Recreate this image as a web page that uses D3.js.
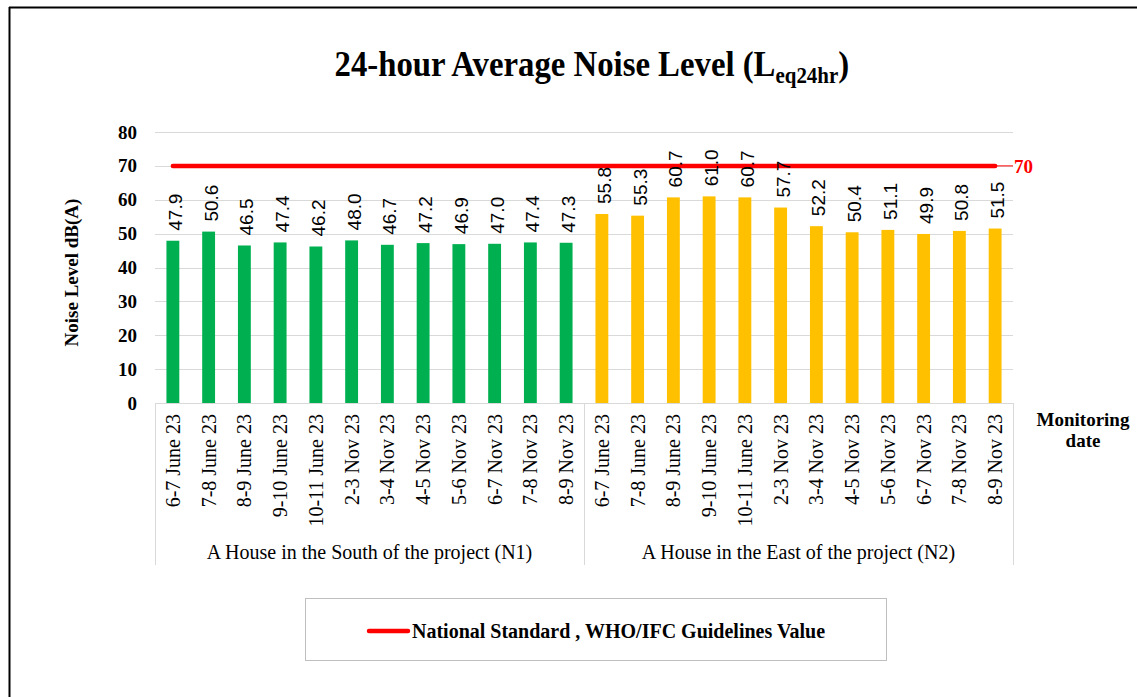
<!DOCTYPE html>
<html>
<head>
<meta charset="utf-8">
<script src="https://cdn.jsdelivr.net/npm/d3@7"></script>
<style>
  body { margin: 0; background: #fff; }
  svg { display: block; }
</style>
</head>
<body>
<div id="chart"></div>
<script>
// data
const dates = ['6-7 June 23', '7-8 June 23', '8-9 June 23', '9-10 June 23', '10-11 June 23',
    '2-3 Nov 23', '3-4 Nov 23', '4-5 Nov 23', '5-6 Nov 23', '6-7 Nov 23', '7-8 Nov 23', '8-9 Nov 23'];
const groups = ['A House in the South of the project (N1)', 'A House in the East of the project (N2)'];
const n1Values = [47.9, 50.6, 46.5, 47.4, 46.2, 48.0, 46.7, 47.2, 46.9, 47.0, 47.4, 47.3];
const n2Values = [55.8, 55.3, 60.7, 61.0, 60.7, 57.7, 52.2, 50.4, 51.1, 49.9, 50.8, 51.5];
const standardValue = 70;
const yTicks = [0, 10, 20, 30, 40, 50, 60, 70, 80];
const groupColors = ['#00B050', '#FFC000'];

const SERIF = '"Liberation Serif", "Times New Roman", serif';
const SANS = '"Liberation Sans", Arial, sans-serif';

const W = 1137, H = 697;
const plot = {left: 155, right: 1013, top: 132, bottom: 403};

const rows = [];
[n1Values, n2Values].forEach((vals, g) => {
    vals.forEach((v, i) => rows.push({key: g + '-' + i, date: dates[i], group: g, value: v}));
});

const svg = d3.select('#chart').append('svg')
    .attr('width', W)
    .attr('height', H)
    .style('font-family', SERIF);

// outer frame (top + left edges visible)
svg.append('line').attr('x1', 9).attr('x2', W).attr('y1', 7.5).attr('y2', 7.5)
    .attr('stroke', '#000').attr('stroke-width', 2);
svg.append('line').attr('x1', 9.5).attr('x2', 9.5).attr('y1', 7).attr('y2', H)
    .attr('stroke', '#000').attr('stroke-width', 2);

// title
const title = svg.append('text')
    .attr('x', 0).attr('y', 76)
    .style('font-family', SERIF)
    .style('font-weight', 'bold')
    .style('font-size', '36px')
    .attr('fill', '#000');
title.append('tspan').text('24-hour Average Noise Level (L');
title.append('tspan').attr('dy', 7).style('font-size', '23px').text('eq24hr');
title.append('tspan').attr('dy', -7).text(')');
const tb = title.node().getBBox();
const tScale = 515 / tb.width;
title.attr('transform', `translate(${592 - 515 / 2},0) scale(${tScale},1)`);

// scales
const x = d3.scaleBand()
    .domain(rows.map(d => d.key))
    .range([plot.left, plot.right])
    .paddingInner(0.64)
    .paddingOuter(0.32);
const y = d3.scaleLinear().domain([0, 80]).range([plot.bottom, plot.top]);
const cx = d => x(d.key) + x.bandwidth() / 2;

// grid
svg.append('g')
    .selectAll('line')
    .data(yTicks)
    .enter().append('line')
    .attr('x1', plot.left).attr('x2', plot.right)
    .attr('y1', d => Math.round(y(d)) + 0.5).attr('y2', d => Math.round(y(d)) + 0.5)
    .attr('stroke', '#D9D9D9').attr('stroke-width', 1);

// y axis labels
const yAxis = svg.append('g')
    .attr('transform', 'translate(143,0)')
    .call(d3.axisLeft(y).tickValues(yTicks).tickSize(0).tickPadding(6));
yAxis.select('.domain').remove();
yAxis.selectAll('text')
    .style('font-family', SERIF)
    .style('font-weight', 'bold')
    .style('font-size', '19px')
    .attr('fill', '#000');

svg.append('text')
    .attr('transform', `translate(78,${(plot.top + plot.bottom) / 2 + 5}) rotate(-90)`)
    .attr('text-anchor', 'middle')
    .style('font-weight', 'bold')
    .style('font-size', '19px')
    .text('Noise Level dB(A)');

// bars
svg.append('g')
    .selectAll('rect')
    .data(rows)
    .enter().append('rect')
    .attr('x', d => x(d.key))
    .attr('width', x.bandwidth())
    .attr('y', d => y(d.value))
    .attr('height', d => y(0) - y(d.value))
    .attr('fill', d => groupColors[d.group]);

// standard line
const first = rows[0], last = rows[rows.length - 1];
svg.append('line')
    .attr('x1', cx(last)).attr('x2', plot.right)
    .attr('y1', y(standardValue)).attr('y2', y(standardValue))
    .attr('stroke', '#FF0000').attr('stroke-width', 1);
svg.append('line')
    .attr('x1', cx(first)).attr('x2', cx(last))
    .attr('y1', y(standardValue)).attr('y2', y(standardValue))
    .attr('stroke', '#FF0000').attr('stroke-width', 4.5)
    .attr('stroke-linecap', 'round');
svg.append('text')
    .attr('x', plot.right + 1)
    .attr('y', y(standardValue) + 7)
    .attr('fill', '#FF0000')
    .style('font-weight', 'bold')
    .style('font-size', '19px')
    .text(standardValue);

// value labels (on top of the line)
svg.append('g')
    .selectAll('text')
    .data(rows)
    .enter().append('text')
    .attr('transform', d => `translate(${cx(d) + 9},${y(d.value) - 10}) rotate(-90)`)
    .style('font-family', SANS)
    .style('font-size', '19px')
    .attr('fill', '#000')
    .text(d => d.value.toFixed(1));

// category axis box
const axisBottom = 565;
svg.append('line')
    .attr('x1', plot.left).attr('x2', plot.right)
    .attr('y1', plot.bottom + 0.5).attr('y2', plot.bottom + 0.5)
    .attr('stroke', '#D9D9D9');
const mid = (x(rows[11].key) + x.bandwidth() + x(rows[12].key)) / 2;
[plot.left, mid, plot.right].forEach(px => {
    svg.append('line')
        .attr('x1', Math.round(px) + 0.5).attr('x2', Math.round(px) + 0.5)
        .attr('y1', plot.bottom).attr('y2', axisBottom)
        .attr('stroke', '#D9D9D9');
});

svg.append('g')
    .selectAll('text')
    .data(rows)
    .enter().append('text')
    .attr('transform', d => `translate(${cx(d) + 7},${plot.bottom + 11}) rotate(-90)`)
    .attr('text-anchor', 'end')
    .style('font-size', '20px')
    .attr('fill', '#000')
    .text(d => d.date);

svg.append('g')
    .selectAll('text')
    .data(groups)
    .enter().append('text')
    .attr('x', (d, i) => i === 0 ? (plot.left + mid) / 2 : (mid + plot.right) / 2)
    .attr('y', 559)
    .attr('text-anchor', 'middle')
    .style('font-size', '20px')
    .attr('fill', '#000')
    .text(d => d);

// x axis title
const xt = svg.append('text')
    .attr('x', 1083).attr('y', 426)
    .attr('text-anchor', 'middle')
    .style('font-weight', 'bold')
    .style('font-size', '19px');
xt.append('tspan').attr('x', 1083).text('Monitoring');
xt.append('tspan').attr('x', 1083).attr('dy', 21).text('date');

// legend
const legend = svg.append('g');
legend.append('rect')
    .attr('x', 305.5).attr('y', 598.5)
    .attr('width', 581).attr('height', 62)
    .attr('fill', '#fff')
    .attr('stroke', '#BFBFBF');
legend.append('line')
    .attr('x1', 369).attr('x2', 408)
    .attr('y1', 631).attr('y2', 631)
    .attr('stroke', '#FF0000').attr('stroke-width', 4.5)
    .attr('stroke-linecap', 'round');
legend.append('text')
    .attr('x', 412).attr('y', 638)
    .style('font-weight', 'bold')
    .style('font-size', '20px')
    .text('National Standard , WHO/IFC Guidelines Value');
</script>
</body>
</html>
